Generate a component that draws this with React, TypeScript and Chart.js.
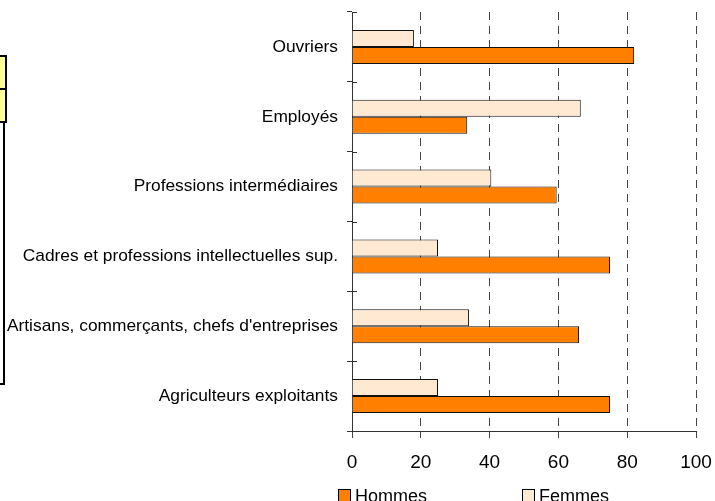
import React, { useEffect, useRef } from "react";
import { Chart, registerables } from "chart.js";

Chart.register(...registerables);

const categories = [
  "Ouvriers",
  "Employés",
  "Professions intermédiaires",
  "Cadres et professions intellectuelles sup.",
  "Artisans, commerçants, chefs d'entreprises",
  "Agriculteurs exploitants",
];
const hommes = [82, 33.5, 59.5, 75, 66, 75];
const femmes = [18, 66.5, 40.5, 25, 34, 25];
const xTicks = [0, 20, 40, 60, 80, 100];
const seriesNames = ["Hommes", "Femmes"];

const HOMMES_COLOR = "#FF8000";
const FEMMES_COLOR = "#FFE9D3";
const FONT = "'Liberation Sans', Arial, sans-serif";

const zeroPadding = (scale: any) => {
  scale.paddingTop = 0;
  scale.paddingBottom = 0;
  scale.paddingLeft = 0;
  scale.paddingRight = 0;
};

const legendPlugin = {
  id: "customLegend",
  afterDraw(chart: any) {
    const ctx = chart.ctx;
    const area = chart.chartArea;
    const yScale = chart.scales.y;
    const n = categories.length;
    ctx.save();
    ctx.strokeStyle = "#333";
    ctx.lineWidth = 1;
    for (let i = 0; i <= n; i++) {
      const yy = Math.round(yScale.top + (i * (yScale.bottom - yScale.top)) / n) + 0.5;
      ctx.beginPath();
      ctx.moveTo(area.left, yy);
      ctx.lineTo(area.left + 5, yy);
      ctx.stroke();
    }
    const items = [
      { label: seriesNames[0], color: HOMMES_COLOR, x: area.left - 14 },
      { label: seriesNames[1], color: FEMMES_COLOR, x: area.left + 170 },
    ];
    ctx.font = `18px ${FONT}`;
    ctx.textBaseline = "alphabetic";
    ctx.textAlign = "left";
    for (const it of items) {
      ctx.fillStyle = it.color;
      ctx.fillRect(it.x, 489, 12, 12);
      ctx.strokeStyle = "#000";
      ctx.strokeRect(it.x + 0.5, 489.5, 12, 12);
      ctx.fillStyle = "#000";
      ctx.fillText(it.label, it.x + 17, 502);
    }
    ctx.restore();
  },
};

export default function App() {
  const ref = useRef<HTMLCanvasElement | null>(null);

  useEffect(() => {
    if (!ref.current) return;
    const chart = new Chart(ref.current, {
      type: "bar",
      data: {
        labels: categories,
        datasets: [
          {
            label: seriesNames[1],
            data: femmes,
            backgroundColor: FEMMES_COLOR,
            borderColor: "#111",
            borderWidth: 1,
          },
          {
            label: seriesNames[0],
            data: hommes,
            backgroundColor: HOMMES_COLOR,
            borderColor: "#111",
            borderWidth: 1,
          },
        ],
      },
      options: {
        indexAxis: "y",
        animation: false,
        responsive: false,
        devicePixelRatio: 1,
        layout: { padding: { top: 12, right: 19, left: 0, bottom: 0 } },
        datasets: {
          bar: { categoryPercentage: 0.486, barPercentage: 1.0 },
        },
        plugins: {
          legend: { display: false },
          tooltip: { enabled: false },
          title: { display: false },
        },
        scales: {
          x: {
            min: xTicks[0],
            max: xTicks[xTicks.length - 1],
            ticks: {
              stepSize: xTicks[1] - xTicks[0],
              color: "#000",
              font: { family: FONT, size: 19 },
              padding: 13,
              maxRotation: 0,
            },
            grid: {
              color: "#444",
              lineWidth: 1,
              tickLength: 7,
              tickColor: "#444",
              tickBorderDash: [],
            } as any,
            border: { display: true, color: "#333", width: 1, dash: [8, 6] },
            afterFit(scale: any) {
              scale.height = 70;
              zeroPadding(scale);
            },
          },
          y: {
            ticks: {
              color: "#000",
              font: { family: FONT, size: 17.35 },
              padding: 9,
            },
            grid: {
              display: true,
              drawOnChartArea: false,
              offset: true,
              tickLength: 5,
              color: "#333",
            },
            border: { display: true, color: "#333", width: 1 },
            afterFit(scale: any) {
              scale.width = 352;
              zeroPadding(scale);
            },
          },
        },
      },
      plugins: [legendPlugin],
    });
    return () => chart.destroy();
  }, []);

  return (
    <div style={{ position: "fixed", left: 0, top: 0, width: 715, height: 501, background: "#fff" }}>
      <canvas ref={ref} width={715} height={501} style={{ position: "absolute", left: 0, top: 0 }} />
      <div
        style={{
          position: "absolute",
          left: -10,
          top: 55,
          width: 13,
          height: 31,
          background: "#FFFF99",
          border: "2px solid #000",
        }}
      />
      <div
        style={{
          position: "absolute",
          left: -10,
          top: 88,
          width: 13,
          height: 31,
          background: "#FFFF99",
          border: "2px solid #000",
        }}
      />
      <div
        style={{
          position: "absolute",
          left: -10,
          top: 121,
          width: 13,
          height: 262,
          borderRight: "2px solid #000",
          borderBottom: "2px solid #000",
        }}
      />
    </div>
  );
}
